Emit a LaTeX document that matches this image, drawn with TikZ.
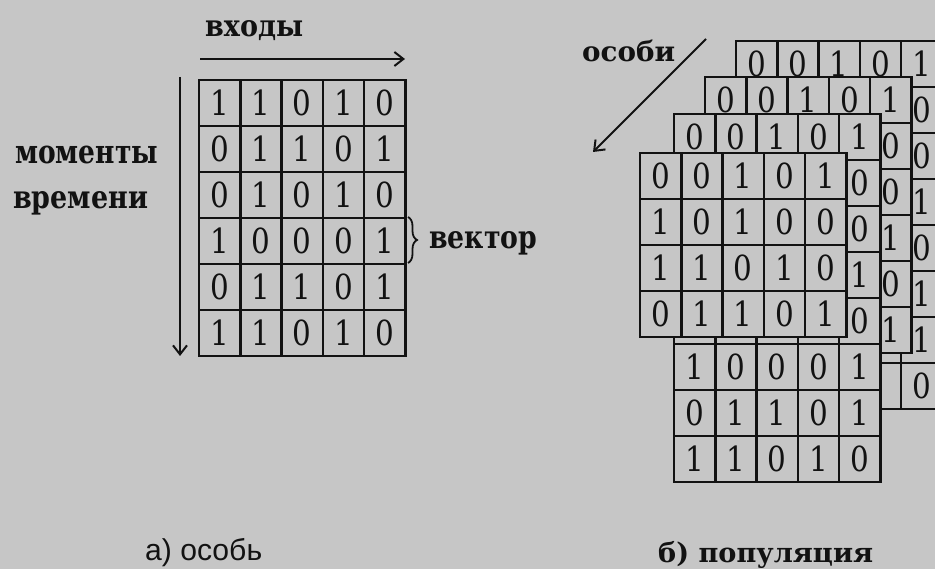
\documentclass[tikz,border=0pt]{standalone}
\usepackage{fontspec}
\usepackage{graphicx}
\setmainfont{DejaVu Serif}
\newfontfamily\capsans{Liberation Sans}
\usetikzlibrary{arrows.meta,decorations.pathreplacing}
\definecolor{paper}{RGB}{198,198,198}
\definecolor{ink}{RGB}{18,18,18}
\def\cw{41.3}
\def\ch{46}
\newcommand\fitlab[3]{\resizebox{#1}{#2}{\bfseries #3}}
\tikzset{
  gridline/.style={draw=ink,line width=2.4pt},
  digit/.style={inner sep=0pt,text=ink,font=\fontsize{32}{32}\selectfont},
  lbl/.style={inner sep=0pt,text=ink,font=\fontsize{30}{30}\selectfont},
  captext/.style={inner sep=0pt,text=ink},
  arr/.style={draw=ink,line width=2pt,-{Straight Barb[length=9pt,width=14pt,line width=2pt]}},
}
\newcommand\layergrid[5]{%
  \fill[paper] (#2,#3) rectangle ++(5*\cw,#4*\ch);
  \foreach \rw [count=\r] in {#5}{%
    \foreach \v [count=\c] in \rw {%
      \if n\v\else
        \node[digit] (#1-\r-\c) at ({#2+(\c-0.5)*\cw},{#3+(\r-0.5)*\ch}) {\scalebox{0.92}[1.08]{\v}};
      \fi
    }%
  }%
  \foreach \i in {1,...,4} \draw[gridline] ({#2+\i*\cw},#3) -- ++(0,#4*\ch);
  \foreach \j in {1,...,#4} \draw[gridline] (#2,{#3+\j*\ch}) -- ++(5*\cw,0);
  \draw[gridline] (#2,#3) rectangle ++(5*\cw,#4*\ch);
}
\begin{document}
\begin{tikzpicture}[x=1pt,y=-1pt]
\fill[paper] (0,0) rectangle (935,569);
\useasboundingbox (0,0) rectangle (935,569);

% a) individual
\layergrid{A}{199}{80}{6}{{1,1,0,1,0},{0,1,1,0,1},{0,1,0,1,0},{1,0,0,0,1},{0,1,1,0,1},{1,1,0,1,0}}
\node[lbl,anchor=base west] (inputs) at (205,37) {\fitlab{98pt}{16pt}{входы}};
\coordinate (inS) at (200,59);
\coordinate (inE) at (405,59);
\draw[arr] (inS) -- (inE);
\coordinate (tS) at (180,77);
\coordinate (tE) at (180,356);
\draw[arr] (tS) -- (tE);
\node[lbl,anchor=base west] (mom) at (15,164) {\fitlab{143pt}{17.5pt}{моменты}};
\node[lbl,anchor=base west] (vrem) at (13,209) {\fitlab{135pt}{17pt}{времени}};
\coordinate (brT) at (408,217);
\coordinate (brB) at (408,263);
\draw[draw=ink,line width=1.8pt,decorate,decoration={brace,amplitude=9pt}] (brT) -- (brB);
\node[lbl,anchor=base west] (vec) at (429,249) {\fitlab{108pt}{17pt}{вектор}};
\node[captext,anchor=base west,font=\capsans\fontsize{30}{30}\selectfont] (capA) at (145,560) {\resizebox{117pt}{!}{а) особь}};

% b) population
\layergrid{L1}{736}{41}{8}{{0,0,1,0,1},{n,n,n,n,0},{n,n,n,n,0},{n,n,n,n,1},{n,n,n,n,0},{n,n,n,n,1},{n,n,n,n,1},{n,n,n,n,0}}
\layergrid{L2}{705}{77}{6}{{0,0,1,0,1},{n,n,n,n,0},{n,n,n,n,0},{n,n,n,n,1},{n,n,n,n,0},{n,n,n,n,1}}
\layergrid{L3}{674}{114}{8}{{0,0,1,0,1},{n,n,n,n,0},{n,n,n,n,0},{n,n,n,n,1},{n,n,n,n,0},{1,0,0,0,1},{0,1,1,0,1},{1,1,0,1,0}}
\layergrid{L4}{640}{153}{4}{{0,0,1,0,1},{1,0,1,0,0},{1,1,0,1,0},{0,1,1,0,1}}
\node[lbl,anchor=base west] (osobi) at (582,62) {\fitlab{93pt}{!}{особи}};
\coordinate (oS) at (706,39);
\coordinate (oE) at (593,152);
\draw[arr] (oS) -- (oE);
\node[lbl,anchor=base west] (capB) at (658,562) {\fitlab{215pt}{!}{б) популяция}};
\end{tikzpicture}
\end{document}
